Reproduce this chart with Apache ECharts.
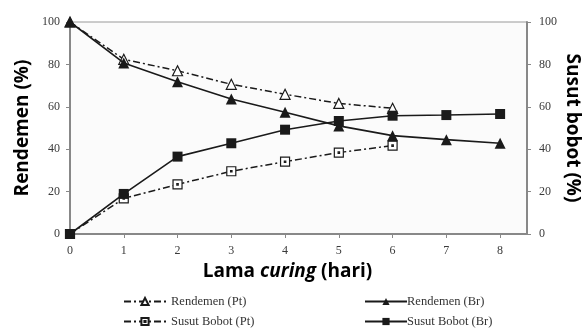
<!DOCTYPE html>
<html>
<head>
<meta charset="utf-8">
<script src="https://cdn.jsdelivr.net/npm/echarts@6/dist/echarts.min.js"></script>
<style>
  html, body { margin: 0; padding: 0; background: #fff; }
  #chart { width: 583px; height: 328px; }
</style>
</head>
<body>
<div id="chart"></div>
<script>
// lama curing (hari)
const days = [0, 1, 2, 3, 4, 5, 6, 7, 8]
const yTicks = [0, 20, 40, 60, 80, 100]

const rendemenPt = [100, 82.4, 77, 70.6, 65.9, 61.6, 59.3]
const susutPt = [0, 16.8, 23.4, 29.6, 34.1, 38.4, 41.7]
const rendemenBr = [100, 80.7, 71.8, 63.7, 57.4, 51, 46.4, 44.5, 42.8]
const susutBr = [0, 18.9, 36.5, 42.8, 49.2, 53.3, 55.8, 56.1, 56.6]

const serif = '"Liberation Serif", "DejaVu Serif", serif'
const ink = '#1a1a1a'
const dashDot = [7, 3, 2, 3]
// open square with a dot in the middle
const dotRect = 'path://M0,0H10V10H0Z M4.2,4.2H5.8V5.8H4.2Z'

function pairs (vals) {
  return vals.map((v, i) => [days[i], v])
}

const chart = echarts.init(document.getElementById('chart'))

const tickLabel = { fontFamily: serif, fontSize: 12, color: '#3a3a3a' }
const titleFont = { fontFamily: 'Open Sans', fontWeight: 'bold', fontSize: 19, color: '#000' }
const legendBase = {
  orient: 'vertical',
  top: 295,
  height: 60,
  itemGap: 7,
  itemWidth: 42,
  itemHeight: 9,
  padding: 0
}

chart.setOption({
  animation: false,
  backgroundColor: '#fff',
  grid: {
    left: 70,
    right: 56,
    top: 22,
    bottom: 94,
    outerBoundsMode: 'none',
    containLabel: false,
    show: true,
    backgroundColor: '#fbfbfb',
    borderColor: '#999',
    borderWidth: 1
  },
  legend: [
    Object.assign({}, legendBase, {
      left: 123,
      data: ['Rendemen (Pt)', 'Susut Bobot (Pt)'],
      textStyle: { fontFamily: serif, fontSize: 12.5, color: '#333' }
    }),
    Object.assign({}, legendBase, {
      left: 364,
      data: ['Rendemen (Br)', 'Susut Bobot (Br)'],
      textStyle: { fontFamily: serif, fontSize: 12.5, color: '#333', padding: [0, 0, 0, -5] }
    })
  ],
  xAxis: {
    type: 'value',
    min: 0,
    max: 8.5,
    interval: 1,
    splitLine: { show: false },
    axisLine: { lineStyle: { color: '#888', width: 2 } },
    axisTick: { show: true, length: 4, lineStyle: { color: '#888' } },
    axisLabel: Object.assign({ showMaxLabel: false, margin: 11 }, tickLabel),
    name: '{n|Lama }{i|curing}{n| (hari)}',
    nameLocation: 'middle',
    nameGap: 28,
    nameTextStyle: {
      padding: [0, 22, 0, 0],
      rich: {
        n: titleFont,
        i: Object.assign({}, titleFont, { fontStyle: 'italic' })
      }
    }
  },
  yAxis: [
    {
      type: 'value',
      min: yTicks[0],
      max: yTicks[yTicks.length - 1],
      interval: 20,
      splitLine: { show: false },
      axisLine: { show: true, lineStyle: { color: '#888', width: 2 } },
      axisTick: { show: true, length: 4, lineStyle: { color: '#888' } },
      axisLabel: Object.assign({ margin: 10 }, tickLabel),
      name: 'Rendemen (%)',
      nameLocation: 'middle',
      nameMoveOverlap: false,
      nameGap: 38,
      nameTextStyle: titleFont
    },
    {
      type: 'value',
      position: 'right',
      min: yTicks[0],
      max: yTicks[yTicks.length - 1],
      interval: 20,
      splitLine: { show: false },
      axisLine: { show: true, lineStyle: { color: '#888', width: 2 } },
      axisTick: { show: true, length: 4, lineStyle: { color: '#888' } },
      axisLabel: Object.assign({ margin: 12 }, tickLabel),
      name: 'Susut bobot (%)',
      nameLocation: 'middle',
      nameMoveOverlap: false,
      nameGap: 36,
      nameRotate: -90,
      nameTextStyle: titleFont
    }
  ],
  series: [
    {
      name: 'Rendemen (Pt)',
      type: 'line',
      data: pairs(rendemenPt),
      symbol: 'triangle',
      symbolSize: 10,
      itemStyle: { color: '#fff', borderColor: ink, borderWidth: 1.2 },
      lineStyle: { color: ink, width: 1.5, type: dashDot },
      z: 2
    },
    {
      name: 'Susut Bobot (Pt)',
      type: 'line',
      data: pairs(susutPt),
      symbol: dotRect,
      symbolSize: 9,
      itemStyle: { color: '#fff', borderColor: ink, borderWidth: 1.2 },
      lineStyle: { color: ink, width: 1.5, type: dashDot },
      z: 2
    },
    {
      name: 'Rendemen (Br)',
      type: 'line',
      data: pairs(rendemenBr),
      symbol: 'triangle',
      symbolSize: 11,
      itemStyle: { color: ink },
      lineStyle: { color: ink, width: 1.6 },
      z: 3
    },
    {
      name: 'Susut Bobot (Br)',
      type: 'line',
      data: pairs(susutBr),
      symbol: 'rect',
      symbolSize: 10,
      itemStyle: { color: ink },
      lineStyle: { color: ink, width: 1.6 },
      z: 3
    }
  ]
})
</script>
</body>
</html>
